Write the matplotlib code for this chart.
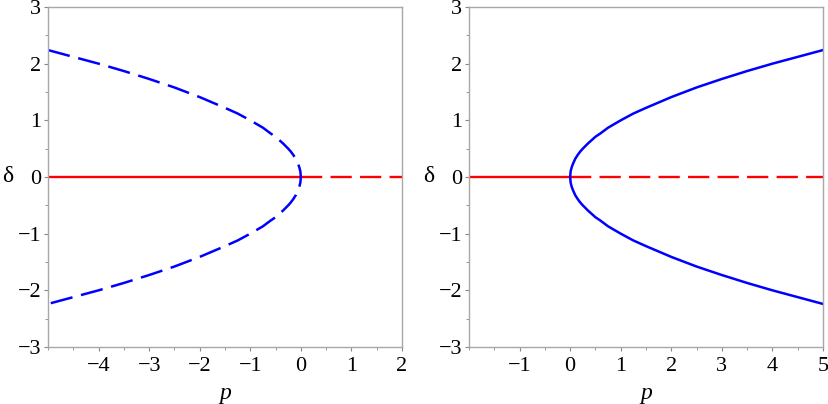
import numpy as np
import matplotlib.pyplot as plt
from matplotlib.ticker import MultipleLocator

# nontrivial branch, vertex first (upper half; lower half is -delta)
p_left = [0, -0.01, -0.03, -0.05, -0.1, -0.15, -0.2, -0.25, -0.35, -0.5, -0.6, -0.75,
          -1, -1.25, -1.5, -2, -2.5, -3, -3.5, -4, -4.5, -5]
d_left = [0, 0.1, 0.17, 0.22, 0.32, 0.39, 0.45, 0.5, 0.59, 0.71, 0.77, 0.87,
          1.0, 1.12, 1.22, 1.41, 1.58, 1.73, 1.87, 2.0, 2.12, 2.24]

p_right = [0, 0.01, 0.03, 0.05, 0.1, 0.15, 0.2, 0.25, 0.35, 0.5, 0.6, 0.75,
           1, 1.25, 1.5, 2, 2.5, 3, 3.5, 4, 4.5, 5]
d_right = [0, 0.1, 0.17, 0.22, 0.32, 0.39, 0.45, 0.5, 0.59, 0.71, 0.77, 0.87,
           1.0, 1.12, 1.22, 1.41, 1.58, 1.73, 1.87, 2.0, 2.12, 2.24]

# trivial branch delta = 0: stable part and unstable part
left_stable = [-5, 0]
left_unstable = [0, 2]
right_stable = [-2, 0]
right_unstable = [0, 5]

xlim_left = (-5, 2)
xlim_right = (-2, 5)
xticks_left = [-4, -3, -2, -1, 0, 1, 2]
xticks_right = [-1, 0, 1, 2, 3, 4, 5]
yticks = [-3, -2, -1, 0, 1, 2, 3]

plt.rcParams['font.family'] = ['Liberation Serif', 'DejaVu Serif']
plt.rcParams['axes.unicode_minus'] = True

fig = plt.figure(figsize=(8.29, 4.04), dpi=100)
ax1 = fig.add_axes([48 / 829, 57 / 404, 354 / 829, 340 / 404])
ax2 = fig.add_axes([469 / 829, 57 / 404, 354 / 829, 340 / 404])

RED = '#ff0000'
BLUE = '#0000ff'
dash = (0, (9, 3.5))


def full_branch(p, d):
    # upper end -> vertex -> lower end, so the dashes run through the vertex
    p = np.asarray(p, dtype=float)
    d = np.asarray(d, dtype=float)
    return np.concatenate([p[::-1], p[1:]]), np.concatenate([d[::-1], -d[1:]])


# left panel
ax1.plot(left_stable, [0, 0], color=RED, lw=1.7, solid_capstyle='butt')
ax1.plot(left_unstable, [0, 0], color=RED, lw=1.7, ls=dash)
bp, bd = full_branch(p_left, d_left)
ax1.plot(bp, bd, color=BLUE, lw=1.8, ls=dash)
ax1.set_xlim(*xlim_left)
ax1.set_xticks(xticks_left)

# right panel
ax2.plot(right_stable, [0, 0], color=RED, lw=1.7, solid_capstyle='butt')
ax2.plot(right_unstable, [0, 0], color=RED, lw=1.7, ls=dash)
bp, bd = full_branch(p_right, d_right)
ax2.plot(bp, bd, color=BLUE, lw=1.8)
ax2.set_xlim(*xlim_right)
ax2.set_xticks(xticks_right)

for ax in (ax1, ax2):
    ax.set_ylim(-3, 3)
    ax.set_yticks(yticks)
    ax.xaxis.set_minor_locator(MultipleLocator(0.5))
    ax.yaxis.set_minor_locator(MultipleLocator(0.5))
    for s in ax.spines.values():
        s.set_color('#a8a8a8')
        s.set_linewidth(1.0)
    ax.tick_params(which='major', direction='out', length=3, width=0.8,
                   color='#888888', labelsize=16)
    ax.tick_params(which='minor', direction='out', length=2, width=0.6,
                   color='#888888')
    ax.tick_params(axis='x', pad=4)
    ax.tick_params(axis='y', pad=2)
    ax.set_xlabel('p', fontsize=17, style='italic')
    ax.set_ylabel('δ', fontsize=17, rotation=0, va='center', ha='center')
    ax.yaxis.set_label_coords(-0.115, 0.5)
    ax.xaxis.set_label_coords(0.5, -0.105)

fig.savefig('out.png', dpi=100)
